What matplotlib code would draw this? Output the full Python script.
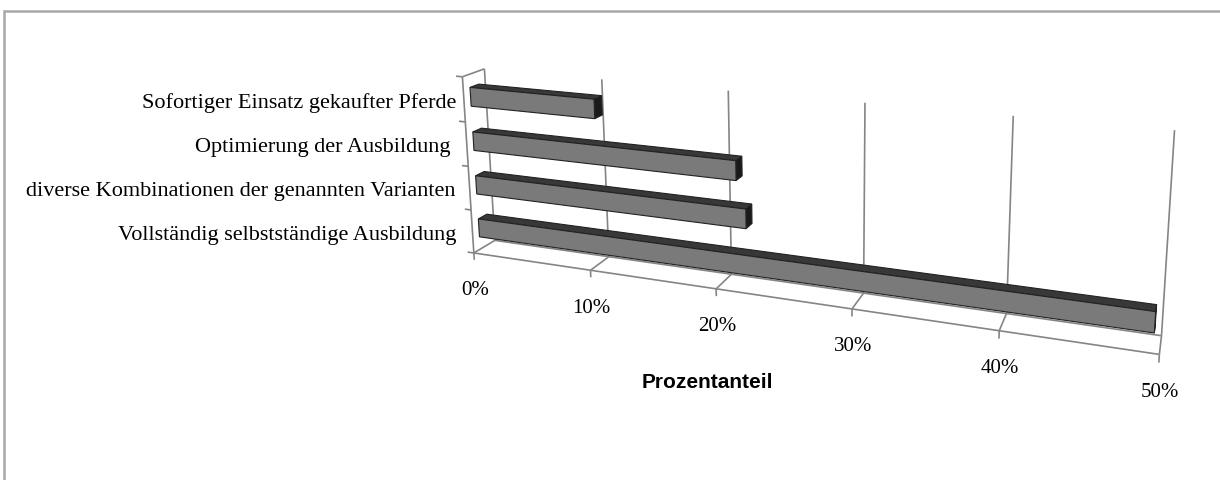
import numpy as np
import matplotlib
matplotlib.use("Agg")
import matplotlib.pyplot as plt
from matplotlib.patches import Polygon

# --- data -------------------------------------------------------------
categories = [
    "Sofortiger Einsatz gekaufter Pferde",
    "Optimierung der Ausbildung ",
    "diverse Kombinationen der genannten Varianten",
    "Vollständig selbstständige Ausbildung",
]
shares = [10.4, 21.3, 22.0, 49.6]          # percent
value_ticks = [0, 10, 20, 30, 40, 50]
tick_labels = ["0%", "10%", "20%", "30%", "40%", "50%"]
axis_title = "Prozentanteil"

# --- perspective camera ------------------------------------------------
# world: x = value (percent), y = category units (0 = floor), z = depth (0 = front)
CAMERA = np.array([
    [9.54054, -6.5092, 35.2915, 473.837],
    [0.750341, -44.6641, -5.61958, 253.974],
    [-0.00359685, -0.00789602, 0.0288739, 1.0],
])


def project(x, y, z):
    h = CAMERA @ np.array([x, y, z, 1.0])
    return h[0] / h[2], h[1] / h[2]


# camera centre in world coordinates (for face visibility)
eye = -np.linalg.solve(CAMERA[:, :3], CAMERA[:, 3])

n_cat = len(categories)
v_max = value_ticks[-1]
BAR_LOW, BAR_HIGH = 0.29, 0.71
DEPTH_FRONT, DEPTH_BACK = 0.30, 0.70

W, H = 1220, 481
fig = plt.figure(figsize=(W / 100, H / 100), dpi=100)
ax = fig.add_axes([0, 0, 1, 1])
ax.set_xlim(0, W)
ax.set_ylim(H, 0)
ax.axis("off")

serif = ["Liberation Serif", "DejaVu Serif"]
line_kw = dict(color="#858585", lw=1.2, solid_capstyle="butt", zorder=1)


def seg(p, q, **kw):
    ax.plot([p[0], q[0]], [p[1], q[1]], **kw)


# chart-area border
ax.plot([4, 4, W], [H, 12, 12], color="#a8a8a8", lw=1.8, zorder=0,
        solid_joinstyle="miter")

# back-wall gridlines, floor gridlines and value-axis ticks
for v in value_ticks:
    seg(project(v, 0, 1), project(v, n_cat, 1), **line_kw)
    seg(project(v, 0, 1), project(v, 0, 0), **line_kw)
    seg(project(v, 0, 0), project(v, -0.16, 0), **line_kw)

# floor outline
seg(project(0, 0, 0), project(v_max, 0, 0), **line_kw)
seg(project(0, 0, 1), project(v_max, 0, 1), **line_kw)

# side wall / category axis
seg(project(0, 0, 0), project(0, n_cat, 0), **line_kw)
seg(project(0, n_cat, 0), project(0, n_cat, 1), **line_kw)
for k in range(n_cat + 1):
    seg(project(-0.55, k, 0), project(0, k, 0), **line_kw)

# bars
face_colors = {"front": "#7a7a7a", "top": "#383838", "end": "#1a1a1a"}
for i, (label, val) in enumerate(zip(categories, shares)):
    c = n_cat - 1 - i
    y0, y1 = c + BAR_LOW, c + BAR_HIGH
    z0, z1 = DEPTH_FRONT, DEPTH_BACK
    faces = []
    if eye[0] > val:
        faces.append(("end", [(val, y0, z0), (val, y0, z1), (val, y1, z1), (val, y1, z0)]))
    if eye[1] > y1:
        faces.append(("top", [(0, y1, z0), (val, y1, z0), (val, y1, z1), (0, y1, z1)]))
    if eye[2] < z0:
        faces.append(("front", [(0, y0, z0), (val, y0, z0), (val, y1, z0), (0, y1, z0)]))
    for name, pts in faces:
        poly = Polygon([project(*p) for p in pts], closed=True,
                       facecolor=face_colors[name], edgecolor="#222222",
                       lw=0.8, joinstyle="miter", zorder=3 + c)
        ax.add_patch(poly)

    # category label
    lx, ly = project(0, c + 0.5, 0)
    ax.text(456, ly + 2.5, label, ha="right", va="center", fontsize=16,
            family=serif, color="black", zorder=10)

# value tick labels
for v, t in zip(value_ticks, tick_labels):
    tx, ty = project(v, 0, 0)
    ax.text(tx + 1, ty + 37, t, ha="center", va="center", fontsize=15,
            family=serif, color="black", zorder=10)

ax.text(707, 383, axis_title, ha="center", va="center", fontsize=15,
        fontweight="bold", family=["Liberation Sans", "DejaVu Sans"],
        color="black", zorder=10)

fig.savefig("out.png", dpi=100)
